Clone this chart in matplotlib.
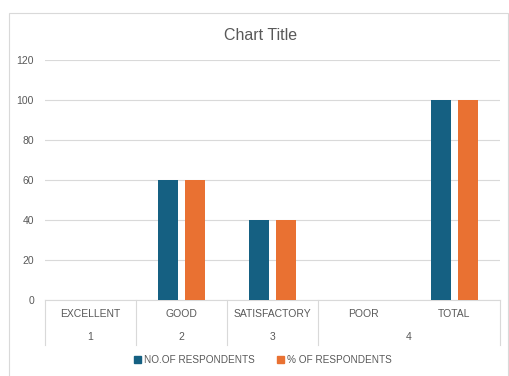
import matplotlib
matplotlib.use("Agg")
import matplotlib.pyplot as plt
from matplotlib.patches import Rectangle
from matplotlib.lines import Line2D
import numpy as np

categories = ["EXCELLENT", "GOOD", "SATISFACTORY", "POOR", "TOTAL"]
groups = ["1", "2", "3", "4"]
group_spans = [(0, 0), (1, 1), (2, 2), (3, 4)]
no_respondents = [0, 60, 40, 0, 100]
pct_respondents = [0, 60, 40, 0, 100]
series_names = ["NO.OF RESPONDENTS", "% OF RESPONDENTS"]
yticks = [0, 20, 40, 60, 80, 100, 120]

blue = "#156082"
orange = "#E97132"
grid_c = "#D9D9D9"
text_c = "#595959"

W, H = 509, 376
fig = plt.figure(figsize=(W / 100, H / 100), dpi=100)
plt.rcParams['font.family'] = ['Liberation Sans', 'DejaVu Sans']

# chart-area border
fig.add_artist(Rectangle((9 / W, -0.1), (508 - 9) / W, 1.1 - 13 / H,
                         transform=fig.transFigure, fill=False,
                         edgecolor=grid_c, linewidth=0.8))

ax = fig.add_axes([45 / W, 1 - 300 / H, (500 - 45) / W, 240 / H])
x = np.arange(len(categories))
bw = 0.22
gap = 0.066
ax.bar(x - (bw + gap) / 2, no_respondents, bw, color=blue, zorder=3,
       label=series_names[0])
ax.bar(x + (bw + gap) / 2, pct_respondents, bw, color=orange, zorder=3,
       label=series_names[1])

ax.set_xlim(-0.5, len(categories) - 0.5)
ax.set_ylim(0, 120)
ax.set_yticks(yticks)
ax.tick_params(axis='y', length=0, labelsize=7.5, labelcolor=text_c, pad=8)
ax.set_xticks([])
ax.grid(axis='y', color=grid_c, linewidth=0.8, zorder=0)
for s in ["top", "right", "left"]:
    ax.spines[s].set_visible(False)
ax.spines["bottom"].set_color(grid_c)
ax.spines["bottom"].set_linewidth(0.8)

tr = ax.get_xaxis_transform()
row1_y = -14 / 240
row2_y = -37 / 240
sep_bottom = -45 / 240
for i, c in enumerate(categories):
    ax.text(i, row1_y, c, transform=tr, ha='center', va='center',
            fontsize=7.5, color=text_c)
for g, (a, b) in zip(groups, group_spans):
    ax.text((a + b) / 2, row2_y, g, transform=tr, ha='center', va='center',
            fontsize=7.5, color=text_c)
bounds = [-0.5] + [b + 0.5 for (a, b) in group_spans]
for bx in bounds:
    ax.add_line(Line2D([bx, bx], [0, sep_bottom], transform=tr,
                       color=grid_c, linewidth=0.8, clip_on=False))

fig.text(261 / W, 1 - 35 / H, "Chart Title", ha='center', va='center',
         fontsize=11.5, color=text_c)

handles = [Rectangle((0, 0), 1, 1, color=blue), Rectangle((0, 0), 1, 1, color=orange)]
fig.legend(handles, series_names, loc='center', bbox_to_anchor=(263 / W, 1 - 360 / H),
           ncol=2, frameon=False, fontsize=7.2, labelcolor=text_c,
           handlelength=0.7, handleheight=0.7, handletextpad=0.3, columnspacing=2.2)

fig.savefig("out.png", dpi=100)
